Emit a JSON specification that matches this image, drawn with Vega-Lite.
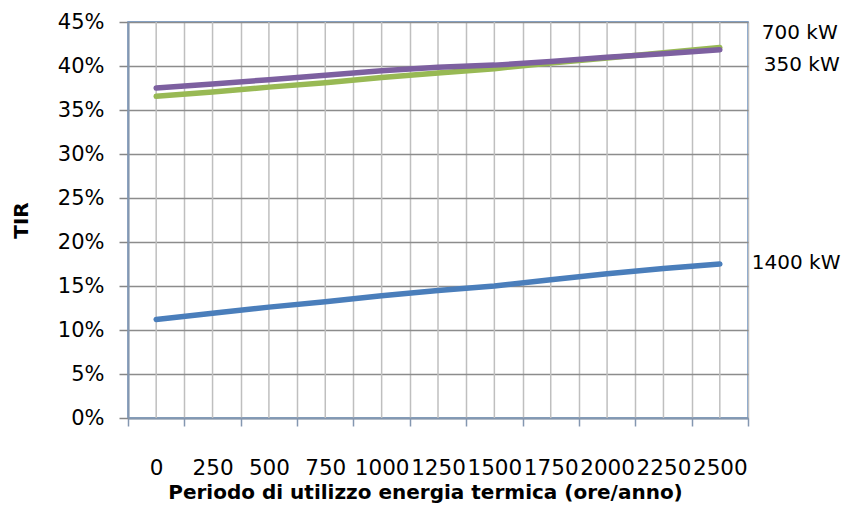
{
  "$schema": "https://vega.github.io/schema/vega-lite/v6.json",
  "width": 620,
  "height": 396,
  "autosize": "none",
  "padding": {"left": 128, "top": 22, "right": 100, "bottom": 108},
  "background": "white",
  "config": {
    "font": "DejaVu Sans",
    "view": {"stroke": "#5B8BC5", "strokeWidth": 1.5}
  },
  "data": {
    "values": [
      {"ore": 0, "serie": "1400 kW", "tir": 0.112},
      {"ore": 250, "serie": "1400 kW", "tir": 0.119},
      {"ore": 500, "serie": "1400 kW", "tir": 0.126},
      {"ore": 750, "serie": "1400 kW", "tir": 0.132},
      {"ore": 1000, "serie": "1400 kW", "tir": 0.139},
      {"ore": 1250, "serie": "1400 kW", "tir": 0.145},
      {"ore": 1500, "serie": "1400 kW", "tir": 0.150},
      {"ore": 1750, "serie": "1400 kW", "tir": 0.157},
      {"ore": 2000, "serie": "1400 kW", "tir": 0.164},
      {"ore": 2250, "serie": "1400 kW", "tir": 0.170},
      {"ore": 2500, "serie": "1400 kW", "tir": 0.175},
      {"ore": 0, "serie": "700 kW", "tir": 0.3655},
      {"ore": 250, "serie": "700 kW", "tir": 0.3705},
      {"ore": 500, "serie": "700 kW", "tir": 0.376},
      {"ore": 750, "serie": "700 kW", "tir": 0.381},
      {"ore": 1000, "serie": "700 kW", "tir": 0.387},
      {"ore": 1250, "serie": "700 kW", "tir": 0.392},
      {"ore": 1500, "serie": "700 kW", "tir": 0.397},
      {"ore": 1750, "serie": "700 kW", "tir": 0.4035},
      {"ore": 2000, "serie": "700 kW", "tir": 0.409},
      {"ore": 2250, "serie": "700 kW", "tir": 0.415},
      {"ore": 2500, "serie": "700 kW", "tir": 0.421},
      {"ore": 0, "serie": "350 kW", "tir": 0.375},
      {"ore": 250, "serie": "350 kW", "tir": 0.3795},
      {"ore": 500, "serie": "350 kW", "tir": 0.3845},
      {"ore": 750, "serie": "350 kW", "tir": 0.3895},
      {"ore": 1000, "serie": "350 kW", "tir": 0.3945},
      {"ore": 1250, "serie": "350 kW", "tir": 0.3985},
      {"ore": 1500, "serie": "350 kW", "tir": 0.401},
      {"ore": 1750, "serie": "350 kW", "tir": 0.405},
      {"ore": 2000, "serie": "350 kW", "tir": 0.410},
      {"ore": 2250, "serie": "350 kW", "tir": 0.414},
      {"ore": 2500, "serie": "350 kW", "tir": 0.4185}
    ]
  },
  "encoding": {
    "x": {
      "field": "ore",
      "type": "ordinal",
      "scale": {"type": "band", "paddingInner": 0, "paddingOuter": 0},
      "axis": {
        "title": "Periodo di utilizzo energia termica (ore/anno)",
        "titleFont": "DejaVu Sans",
        "titleFontSize": 20,
        "titleFontWeight": "bold",
        "titleColor": "#000000",
        "titlePadding": 4,
        "titleX": 297,
        "labelAngle": 0,
        "labelFont": "DejaVu Sans",
        "labelFontSize": 21.5,
        "labelColor": "#000000",
        "labelPadding": 31,
        "labelOverlap": false,
        "tickBand": "extent",
        "tickSize": 8,
        "tickWidth": 1.5,
        "tickColor": "#8497B0",
        "domainColor": "#8497B0",
        "domainWidth": 2,
        "grid": true,
        "gridColor": "#BFBFBF",
        "gridWidth": 1.5
      }
    }
  },
  "layer": [
    {
      "transform": [{"filter": "datum.serie === '1400 kW'"}],
      "mark": {"type": "rule", "color": "#BFBFBF", "strokeWidth": 1.5},
      "encoding": {}
    },
    {
      "mark": {"type": "line", "strokeWidth": 5.5, "strokeCap": "round", "strokeJoin": "round"},
      "encoding": {
        "y": {
          "field": "tir",
          "type": "quantitative",
          "scale": {"domain": [0, 0.45], "nice": false, "zero": true},
          "axis": {
            "title": "TIR",
            "titleFont": "DejaVu Sans",
            "titleFontSize": 20,
            "titleFontWeight": "bold",
            "titleColor": "#000000",
            "titlePadding": 26,
            "values": [0, 0.05, 0.1, 0.15, 0.2, 0.25, 0.3, 0.35, 0.4, 0.45],
            "format": ".0%",
            "labelFont": "DejaVu Sans",
            "labelFontSize": 21,
            "labelColor": "#000000",
            "labelPadding": 15,
            "tickSize": 9,
            "tickWidth": 1.5,
            "tickColor": "#868686",
            "domainColor": "#8497B0",
            "domainWidth": 2,
            "grid": true,
            "gridColor": "#8C8C8C",
            "gridWidth": 1.5
          }
        },
        "color": {
          "field": "serie",
          "type": "nominal",
          "scale": {
            "domain": ["1400 kW", "700 kW", "350 kW"],
            "range": ["#4A7EBB", "#98B954", "#7D60A0"]
          },
          "legend": null
        }
      }
    },
    {
      "transform": [{"filter": "datum.ore === 2500 && datum.serie === '700 kW'"}],
      "mark": {"type": "text", "align": "left", "baseline": "middle", "dx": 42, "dy": -15, "fontSize": 20, "font": "DejaVu Sans", "color": "#000000"},
      "encoding": {
        "y": {"field": "tir", "type": "quantitative"},
        "text": {"field": "serie"}
      }
    },
    {
      "transform": [{"filter": "datum.ore === 2500 && datum.serie === '350 kW'"}],
      "mark": {"type": "text", "align": "left", "baseline": "middle", "dx": 44, "dy": 15, "fontSize": 20, "font": "DejaVu Sans", "color": "#000000"},
      "encoding": {
        "y": {"field": "tir", "type": "quantitative"},
        "text": {"field": "serie"}
      }
    },
    {
      "transform": [{"filter": "datum.ore === 2500 && datum.serie === '1400 kW'"}],
      "mark": {"type": "text", "align": "left", "baseline": "middle", "dx": 32, "dy": -1, "fontSize": 20, "font": "DejaVu Sans", "color": "#000000"},
      "encoding": {
        "y": {"field": "tir", "type": "quantitative"},
        "text": {"field": "serie"}
      }
    }
  ]
}
